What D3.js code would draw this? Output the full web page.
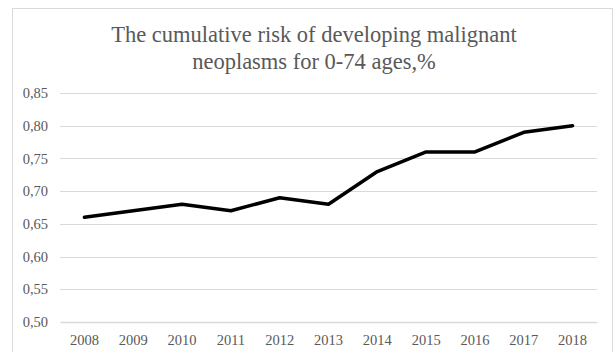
<!DOCTYPE html>
<html>
<head>
<meta charset="utf-8">
<script src="https://cdn.jsdelivr.net/npm/d3@7"></script>
<style>
  body { margin: 0; background: #fff; }
  svg { display: block; }
</style>
</head>
<body>
<div id="chart"></div>
<script>
// chart data
var years = ["2008", "2009", "2010", "2011", "2012", "2013", "2014", "2015", "2016", "2017", "2018"];
var risk = [0.66, 0.67, 0.68, 0.67, 0.69, 0.68, 0.73, 0.76, 0.76, 0.79, 0.80];
var yTicks = [0.50, 0.55, 0.60, 0.65, 0.70, 0.75, 0.80, 0.85];
var titleLines = ["The cumulative risk of developing malignant", "neoplasms for 0-74 ages,%"];

var svgWidth = 615;
var svgHeight = 352;

var margin = { top: 93, right: 18, bottom: 30, left: 60 };
var chartWidth = svgWidth - margin.left - margin.right;
var chartHeight = svgHeight - margin.top - margin.bottom;

var serif = "'Liberation Serif', 'Times New Roman', serif";

var svg = d3.select("#chart")
  .append("svg")
  .attr("width", svgWidth)
  .attr("height", svgHeight);

// outer chart border
svg.append("rect")
  .attr("x", 12.5)
  .attr("y", 8.5)
  .attr("width", 600)
  .attr("height", 360)
  .attr("fill", "#fff")
  .attr("stroke", "#d9d9d9")
  .attr("stroke-width", 1);

// title
svg.append("text")
  .attr("font-family", serif)
  .attr("font-size", "22.5px")
  .attr("fill", "#595959")
  .attr("text-anchor", "middle")
  .selectAll("tspan")
  .data(titleLines)
  .enter()
  .append("tspan")
  .attr("x", 314)
  .attr("y", (d, i) => 42 + i * 27)
  .text(d => d);

var chartGroup = svg.append("g")
  .attr("transform", `translate(${margin.left}, ${margin.top})`);

var xScale = d3.scaleBand()
  .domain(years)
  .range([0, chartWidth]);

var yScale = d3.scaleLinear()
  .domain([0.50, 0.85])
  .range([chartHeight, 0]);

// gridlines
chartGroup.append("g")
  .selectAll("line")
  .data(yTicks.slice(1))
  .enter()
  .append("line")
  .attr("x1", 0)
  .attr("x2", chartWidth)
  .attr("y1", d => Math.round(yScale(d)) + 0.5)
  .attr("y2", d => Math.round(yScale(d)) + 0.5)
  .attr("stroke", "#d9d9d9")
  .attr("stroke-width", 1);

// left axis labels (no line)
var leftAxis = d3.axisLeft(yScale)
  .tickValues(yTicks)
  .tickSize(0)
  .tickPadding(12)
  .tickFormat(d => d3.format(".2f")(d).replace(".", ","));

var yAxisG = chartGroup.append("g").call(leftAxis);
yAxisG.select(".domain").remove();
yAxisG.selectAll("text")
  .attr("font-family", serif)
  .attr("font-size", "14.5px")
  .attr("fill", "#595959");

// bottom axis
var bottomAxis = d3.axisBottom(xScale)
  .tickSize(0)
  .tickPadding(13);

var xAxisG = chartGroup.append("g")
  .attr("transform", `translate(0, ${chartHeight})`)
  .call(bottomAxis);
xAxisG.select(".domain")
  .attr("stroke", "#d9d9d9")
  .attr("stroke-width", 1.5);
xAxisG.selectAll("text")
  .attr("font-family", serif)
  .attr("font-size", "14.5px")
  .attr("fill", "#595959");

// the line
var line = d3.line()
  .x((d, i) => xScale(years[i]) + xScale.bandwidth() / 2)
  .y(d => yScale(d));

chartGroup.append("path")
  .datum(risk)
  .attr("d", line)
  .attr("fill", "none")
  .attr("stroke", "#000")
  .attr("stroke-width", 3.5)
  .attr("stroke-linejoin", "round")
  .attr("stroke-linecap", "round");
</script>
</body>
</html>
